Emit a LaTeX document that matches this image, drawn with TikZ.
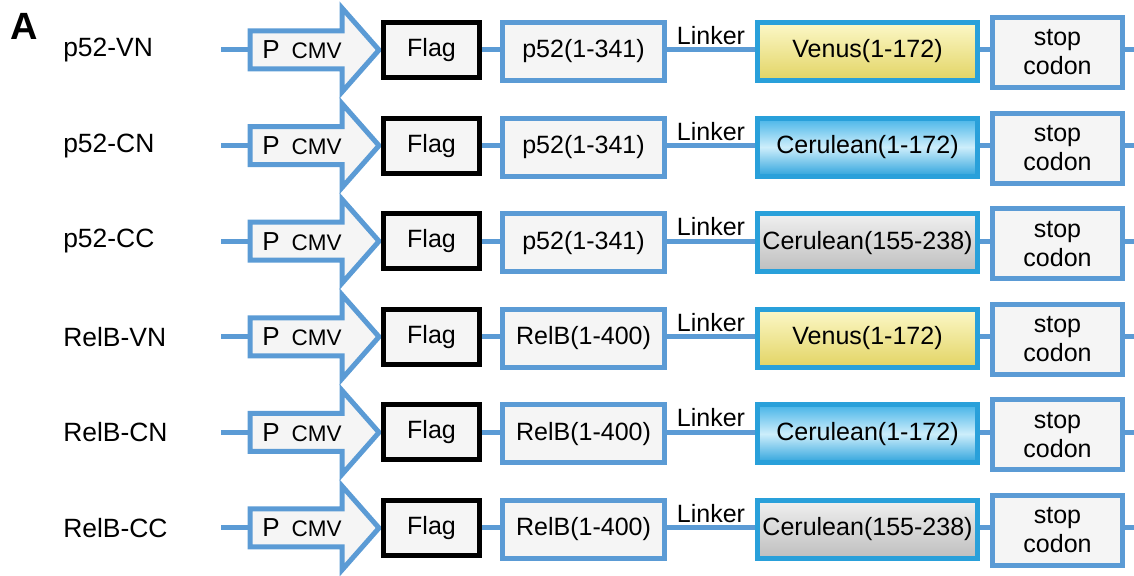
\documentclass[tikz,border=0pt]{standalone}
\usepackage{fontspec}
\setmainfont{Liberation Sans}
\usepackage{tikz}
\usetikzlibrary{backgrounds}

\definecolor{boxblue}{RGB}{91,155,213}
\definecolor{fpblue}{RGB}{41,160,218}
\definecolor{boxgray}{RGB}{245,245,245}

\tikzset{
  part/.style={draw=boxblue, line width=5*0.025cm, fill=boxgray, inner sep=0pt,
    minimum height=58*0.025cm, font=\fontsize{17.8}{20}\selectfont},
  flagbox/.style={part, draw=black, minimum width=96*0.025cm, minimum height=55*0.025cm},
  protbox/.style={part, minimum width=162*0.025cm},
  fpbox/.style={part, draw=fpblue, minimum width=220*0.025cm},
  venus/.style={fpbox, top color={rgb,255:red,252;green,248;blue,200}, bottom color={rgb,255:red,226;green,212;blue,100}},
  cerulean/.style={fpbox, top color={rgb,255:red,70;green,180;blue,232}, bottom color={rgb,255:red,46;green,163;blue,220}, middle color={rgb,255:red,205;green,238;blue,251}},
  ccgray/.style={fpbox, top color={rgb,255:red,240;green,240;blue,240}, bottom color={rgb,255:red,190;green,190;blue,190}},
  stopbox/.style={part, minimum width=130*0.025cm, minimum height=70*0.025cm, align=center,
    font=\fontsize{17.8}{20.6}\selectfont},
  promo/.style={draw=boxblue, line width=5*0.025cm, fill=boxgray},
  link/.style={boxblue, line width=5*0.025cm},
  rowlabel/.style={anchor=west, inner sep=0pt, font=\fontsize{18.8}{20}\selectfont}
}

\begin{document}
\begin{tikzpicture}[x=0.025cm, y=-0.025cm]
\useasboundingbox (0,0) rectangle (1134,576);

\node[inner sep=0pt, font=\fontsize{27}{30}\selectfont\bfseries] (panel) at (24,26) {A};

\foreach \name/\prot/\fp/\fpstyle [count=\i from 0] in {
    p52-VN/p52(1-341)/Venus(1-172)/venus,
    p52-CN/p52(1-341)/Cerulean(1-172)/cerulean,
    p52-CC/p52(1-341)/Cerulean(155-238)/ccgray,
    RelB-VN/RelB(1-400)/Venus(1-172)/venus,
    RelB-CN/RelB(1-400)/Cerulean(1-172)/cerulean,
    RelB-CC/RelB(1-400)/Cerulean(155-238)/ccgray} {
  \pgfmathsetmacro\y{50+95.6*\i}

  \node[rowlabel] (lab\i) at (63,\y) {\name};

  % promoter arrow
  \draw[promo] (250,\y-19) -- (342,\y-19) -- (342,\y-42) -- (379,\y)
    -- (342,\y+42) -- (342,\y+19) -- (250,\y+19) -- cycle;
  \coordinate (pin\i) at (250,\y);
  \coordinate (start\i) at (221,\y);
  \node[anchor=west, inner sep=0pt, font=\fontsize{18.5}{20}\selectfont] (prom\i) at (262,\y)
    {P\hspace{0.3cm}{\fontsize{16}{18}\selectfont CMV}};

  \node[flagbox] (flag\i) at (431.5,\y) {Flag};
  \node[protbox] (prot\i) at (583.5,\y+1.5) {\prot};
  \node[\fpstyle] (fp\i) at (867.5,\y+1.5) {\fp};
  \node[stopbox] (stop\i) at (1057.5,\y+2.5) {stop\\codon};
  \coordinate (end\i) at (1134,\y);

  \begin{scope}[on background layer]
    \draw[link] (start\i) -- (pin\i);
    \draw[link] (flag\i.east) -- (prot\i.west |- flag\i.east);
    \draw[link] (prot\i.east |- flag\i.east) -- node[above, inner sep=2pt, text=black,
      font=\fontsize{17.8}{20}\selectfont] (lnk\i) {Linker} (fp\i.west |- flag\i.east);
    \draw[link] (fp\i.east |- flag\i.east) -- (stop\i.west |- flag\i.east);
    \draw[link] (stop\i.east |- flag\i.east) -- (end\i);
  \end{scope}
}
\end{tikzpicture}
\end{document}
